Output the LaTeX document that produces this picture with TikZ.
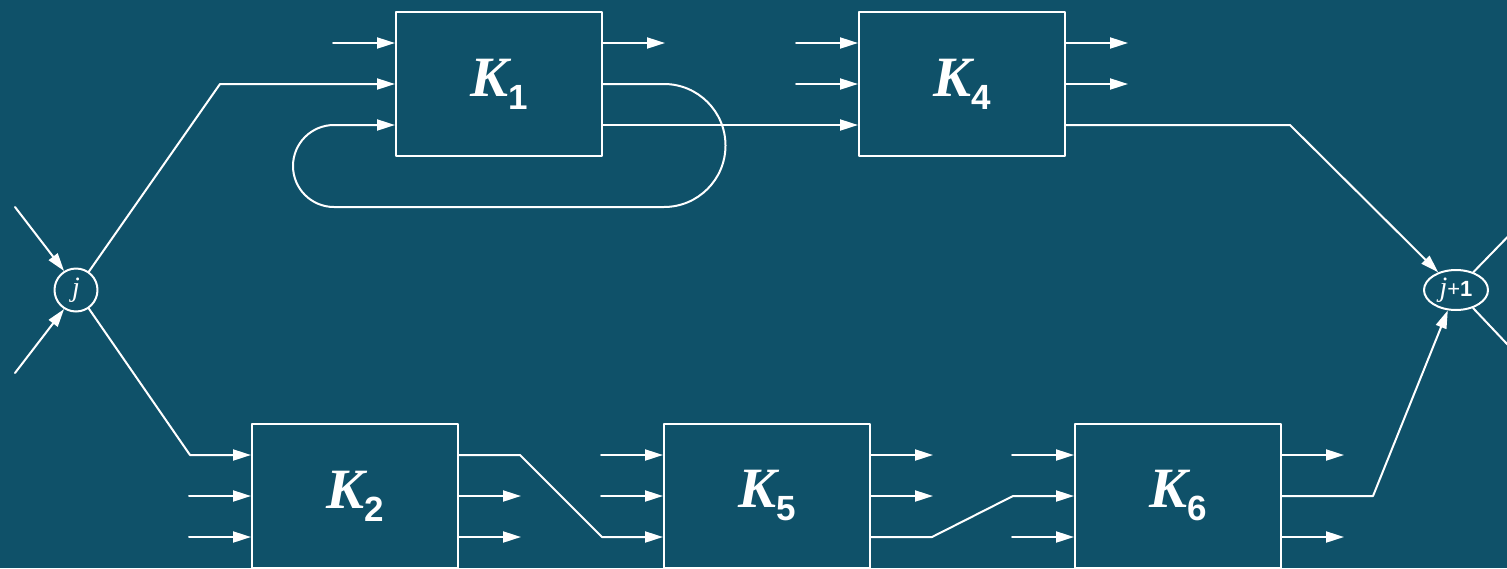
\documentclass[tikz,border=0pt]{standalone}
\usepackage{fontspec}
\setmainfont{Liberation Sans}
\newfontfamily\kfont{Liberation Serif}
\usetikzlibrary{arrows.meta,calc,shapes.geometric}
\definecolor{bgteal}{RGB}{15,81,105}

% label of a block: bold italic K with a sans subscript
\newcommand{\klabel}[1]{{\fontsize{57}{57}\selectfont\kfont\bfseries\itshape K}\raisebox{-13pt}{\fontsize{35}{35}\selectfont\bfseries #1}}

\begin{document}
\begin{tikzpicture}[x=1pt, y=-1pt, line cap=round, line join=round,
    >={Triangle[length=18pt,width=11pt]}, line width=2pt, white,
    block/.style={draw, minimum width=206pt, minimum height=144pt, inner sep=0pt},
    state/.style={draw, circle, minimum size=43pt, inner sep=0pt},
    statewide/.style={draw, ellipse, minimum width=64pt, minimum height=40pt, inner sep=0pt}]
	% Background and page size
	\fill[bgteal] (0,0) rectangle (1507,568);
	\useasboundingbox (0,0) rectangle (1507,568);
	
	% Blocks
	\node[block] (K1) at (499,84) {\klabel{1}};
	\node[block] (K4) at (962,84) {\klabel{4}};
	\node[block] (K2) at (355,496) {\klabel{2}};
	\node[block] (K5) at (767,496) {\klabel{5}};
	\node[block] (K6) at (1178,496) {\klabel{6}};
	
	% States j and j+1
	\node[state] (j) at (76,290) {\fontsize{28}{28}\selectfont\kfont\itshape j};
	\node[statewide] (jj) at (1456,290) {{\fontsize{28}{28}\selectfont\kfont\itshape j}{\fontsize{22}{22}\selectfont +\textbf{1}}};
	
	% Three ports on each side of every block
	\foreach \b in {K1,K2,K4,K5,K6}{
		\foreach \k/\dy in {1/-41,2/0,3/41}{
			\coordinate (\b-in\k) at ($(\b.west)+(0,\dy)$);
			\coordinate (\b-out\k) at ($(\b.east)+(0,\dy)$);
		}
	}
	
	% Bends and free ends
	\coordinate (jin1) at (15,207);
	\coordinate (jin2) at (15,373);
	\coordinate (jup) at (220,84);
	\coordinate (jdown) at (190,455);
	\coordinate (k4bend) at (1290,125);
	\coordinate (k2bend1) at (520,455);
	\coordinate (k2bend2) at (602,537);
	\coordinate (k5bend1) at (932,537);
	\coordinate (k5bend2) at (1013,496);
	\coordinate (k6bend) at (1373,496);
	\coordinate (jjout1) at (1525,219);
	\coordinate (jjout2) at (1525,363);
	
	% Short input and output stubs
	\foreach \p in {K1-in1,K4-in1,K4-in2,K2-in2,K2-in3,K5-in1,K5-in2,K6-in1,K6-in3}
		\draw[->] ($(\p)+(-62,0)$) -- (\p);
	\foreach \p in {K1-out1,K4-out1,K4-out2,K2-out2,K2-out3,K5-out1,K5-out2,K6-out1,K6-out3}
		\draw[->] (\p) -- ($(\p)+(62,0)$);
	
	% Into and out of state j
	\draw[->] (jin1) -- (j.122);
	\draw[->] (jin2) -- (j.238);
	\draw[->] (j) -- (jup) -- (K1-in2);
	\draw[->] (j) -- (jdown) -- (K2-in1);
	
	% Feedback loop of K1
	\draw[->] (K1-out2) -- (664,84) arc[start angle=-90, end angle=90, radius=61.5]
		-- (334,207) arc[start angle=90, end angle=270, radius=41] -- (K1-in3);
	
	% Upper path
	\draw[->] (K1-out3) -- (K4-in3);
	\draw[->] (K4-out3) -- (k4bend) -- (jj);
	
	% Lower path
	\draw[->] (K2-out1) -- (k2bend1) -- (k2bend2) -- (K5-in3);
	\draw[->] (K5-out3) -- (k5bend1) -- (k5bend2) -- (K6-in2);
	\draw[->] (K6-out2) -- (k6bend) -- (jj);
	
	% Out of state j+1
	\draw[->] (jj) -- (jjout1);
	\draw[->] (jj) -- (jjout2);
\end{tikzpicture}
\end{document}
